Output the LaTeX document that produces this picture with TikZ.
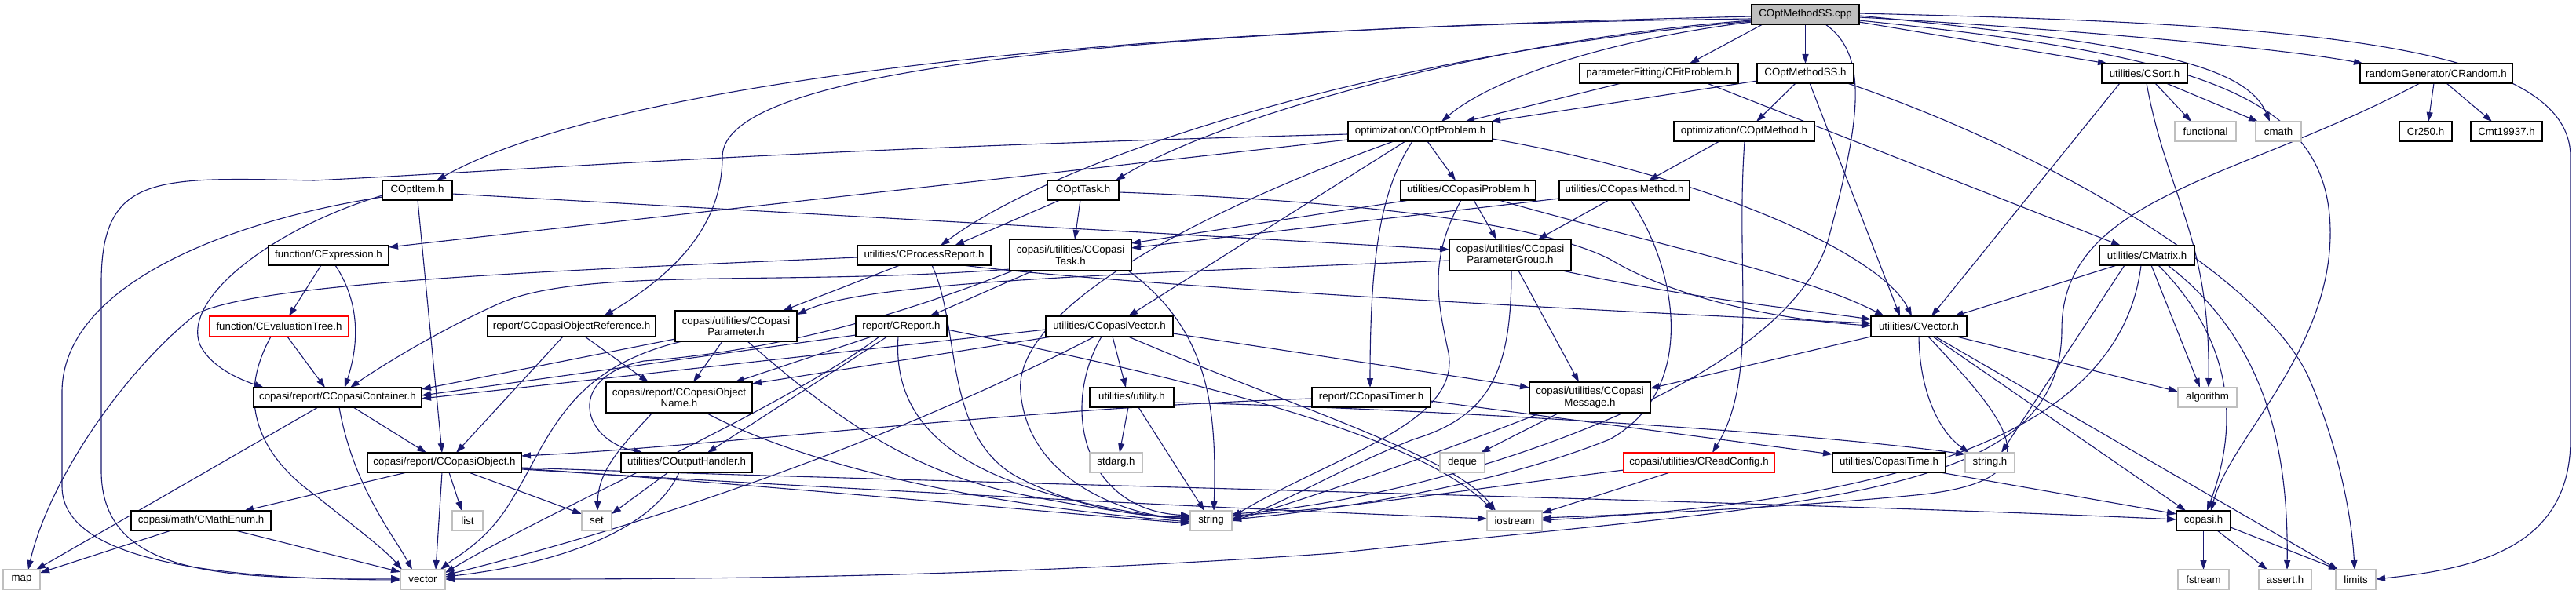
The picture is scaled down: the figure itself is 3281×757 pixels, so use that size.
\documentclass[tikz,border=0pt]{standalone}
\usepackage{fontspec}
\setmainfont{Liberation Sans}
\usetikzlibrary{arrows.meta,calc}
\definecolor{edgec}{HTML}{191970}
\definecolor{grayb}{HTML}{BFBFBF}
\definecolor{cppfill}{HTML}{BFBFBF}
\definecolor{redb}{HTML}{FF0000}
\pgfdeclarelayer{back}
\pgfdeclarelayer{edges}
\pgfsetlayers{back,edges,main}
\begin{document}
\begin{tikzpicture}[x=1pt,y=-1pt,
  nb/.style={draw=black,fill=white,line width=1.6pt,inner sep=0pt,outer sep=0pt,minimum height=25pt,align=center,font=\fontsize{13.3pt}{14.5pt}\selectfont},
  ng/.style={nb,draw=grayb},
  nr/.style={nb,draw=redb},
  e/.style={draw=edgec,line width=1.1pt,-{Triangle[length=12pt,width=8pt]}}]
\begin{pgfonlayer}{back}
\fill[white] (0,0) rectangle (3281,757);
\end{pgfonlayer}
\useasboundingbox (0,0) rectangle (3281,757);
% nodes
\node[nb,fill=cppfill,minimum width=137pt] (cpp) at (2299.5,18.5) {COptMethodSS.cpp};
\node[nb,minimum width=202pt] (fit) at (2113,93.5) {parameterFitting/CFitProblem.h};
\node[nb,minimum width=123pt] (mssh) at (2299.5,93.5) {COptMethodSS.h};
\node[nb,minimum width=109pt] (sort) at (2731.5,93.5) {utilities/CSort.h};
\node[nb,minimum width=194pt] (rand) at (3103,93.5) {randomGenerator/CRandom.h};
\node[nb,minimum width=184pt] (prob) at (1809,167.5) {optimization/COptProblem.h};
\node[nb,minimum width=179pt] (meth) at (2221.5,167.5) {optimization/COptMethod.h};
\node[ng,minimum width=78pt] (functional) at (2809,167.5) {functional};
\node[ng,minimum width=58pt] (cmath) at (2902,167.5) {cmath};
\node[nb,minimum width=67pt] (cr250) at (3089.5,167.5) {Cr250.h};
\node[nb,minimum width=91pt] (cmt) at (3192.5,167.5) {Cmt19937.h};
\node[nb,minimum width=89pt] (item) at (531.5,242.5) {COptItem.h};
\node[nb,minimum width=91pt] (task) at (1379.5,242.5) {COptTask.h};
\node[nb,minimum width=172pt] (cprob) at (1870,242.5) {utilities/CCopasiProblem.h};
\node[nb,minimum width=166pt] (cmeth) at (2069,242.5) {utilities/CCopasiMethod.h};
\node[nb,minimum width=153pt] (expr) at (418.5,325.5) {function/CExpression.h};
\node[nb,minimum width=170pt] (proc) at (1177,325.5) {utilities/CProcessReport.h};
\node[nb,minimum width=155pt,minimum height=40pt] (ctask) at (1363.5,325) {copasi/utilities/CCopasi\\Task.h};
\node[nb,minimum width=155pt,minimum height=40pt] (pgroup) at (1923.5,325) {copasi/utilities/CCopasi\\ParameterGroup.h};
\node[nb,minimum width=121pt] (matrix) at (2734.5,325.5) {utilities/CMatrix.h};
\node[nr,minimum width=177pt,minimum height=26pt] (evtree) at (355.5,416) {function/CEvaluationTree.h};
\node[nb,minimum width=214pt,minimum height=26pt] (oref) at (728,416) {report/CCopasiObjectReference.h};
\node[nb,minimum width=155pt,minimum height=39pt] (param) at (937.5,415.5) {copasi/utilities/CCopasi\\Parameter.h};
\node[nb,minimum width=116pt,minimum height=26pt] (report) at (1148,416) {report/CReport.h};
\node[nb,minimum width=162pt,minimum height=26pt] (cvec) at (1413,416) {utilities/CCopasiVector.h};
\node[nb,minimum width=122pt,minimum height=26pt] (vec) at (2444,416) {utilities/CVector.h};
\node[nb,minimum width=214pt] (cont) at (430,506.5) {copasi/report/CCopasiContainer.h};
\node[nb,minimum width=186pt,minimum height=39pt] (oname) at (865,506.5) {copasi/report/CCopasiObject\\Name.h};
\node[nb,minimum width=107pt] (util) at (1441.5,506.5) {utilities/utility.h};
\node[nb,minimum width=151pt] (timer) at (1746.5,506.5) {report/CCopasiTimer.h};
\node[nb,minimum width=154pt,minimum height=39pt] (msg) at (2025,506.5) {copasi/utilities/CCopasi\\Message.h};
\node[ng,minimum width=75pt] (algo) at (2811.5,506.5) {algorithm};
\node[nb,minimum width=196pt] (obj) at (566,589.5) {copasi/report/CCopasiObject.h};
\node[nb,minimum width=167pt] (outh) at (874.5,589.5) {utilities/COutputHandler.h};
\node[ng,minimum width=67pt] (stdarg) at (1421.5,589.5) {stdarg.h};
\node[ng,minimum width=57pt] (deque) at (1862.5,589.5) {deque};
\node[nr,minimum width=192pt] (rconf) at (2164,589.5) {copasi/utilities/CReadConfig.h};
\node[nb,minimum width=144pt] (ctime) at (2406,589.5) {utilities/CopasiTime.h};
\node[ng,minimum width=63pt] (strh) at (2534.5,589.5) {string.h};
\node[nb,minimum width=178pt] (menum) at (256,663.5) {copasi/math/CMathEnum.h};
\node[ng,minimum width=39pt] (list) at (595.5,663.5) {list};
\node[ng,minimum width=38pt] (set) at (760,663.5) {set};
\node[ng,minimum width=53pt] (string) at (1542.5,663.5) {string};
\node[ng,minimum width=70pt] (iostream) at (1929,663.5) {iostream};
\node[nb,minimum width=69pt] (copasih) at (2806.5,663.5) {copasi.h};
\node[ng,minimum width=47pt] (map) at (27.5,738.5) {map};
\node[ng,minimum width=57pt] (vector) at (538.5,738.5) {vector};
\node[ng,minimum width=65pt] (fstream) at (2806.5,738.5) {fstream};
\node[ng,minimum width=67pt] (assert) at (2910.5,738.5) {assert.h};
\node[ng,minimum width=51pt] (limits) at (3000.5,738.5) {limits};
% edges
\begin{pgfonlayer}{edges}
% from COptMethodSS.cpp
\draw[e] ($(cpp.north west)+(0,18)$) .. controls (1300,35) and (750,120) .. ($(item.north west)+(69,0)$);
\draw[e] ($(cpp.south west)+(14,0)$) -- ($(fit.north west)+(140,0)$);
\draw[e] (cpp.south) -- (mssh.north);
\draw[e] ($(cpp.north east)+(0,22)$) -- ($(sort.north west)+(7,0)$);
\draw[e] ($(cpp.north east)+(0,16)$) .. controls (2600,35) and (2900,60) .. ($(rand.north west)+(4,0)$);
\draw[e] ($(cpp.north west)+(0,22)$) .. controls (2050,50) and (1900,100) .. ($(prob.north west)+(119,0)$);
\draw[e] ($(cpp.north west)+(0,20)$) .. controls (1900,50) and (1550,150) .. ($(task.north west)+(87,0)$);
\draw[e] ($(cpp.north west)+(0,21)$) .. controls (1750,70) and (1350,200) .. ($(proc.north west)+(106,0)$);
\draw[e] ($(cpp.north west)+(0,15)$) .. controls (1400,40) and (920,90) .. (920,200) .. controls (920,300) and (840,360) .. ($(oref.north west)+(148,0)$);
\draw[e] ($(cpp.north east)+(0,14)$) .. controls (2720,55) and (2860,80) .. ($(cmath.north west)+(18,0)$);
\draw[e] ($(cpp.north east)+(0,20)$) .. controls (2800,70) and (2970,120) .. (2968,300) .. controls (2966,450) and (2840,560) .. ($(copasih.north west)+(44,0)$);
\draw[e] ($(cpp.north east)+(0,11)$) .. controls (2900,30) and (3274,50) .. (3274,200) -- (3274,560) .. controls (3274,700) and (3150,725) .. ($(limits.north east)+(0,12)$);
\draw[e] ($(cpp.south west)+(94,0)$) .. controls (2380,70) and (2370,150) .. (2330,300) .. controls (2280,500) and (1800,640) .. ($(string.north east)+(0,4)$);
% fit, mssh, sort, rand
\draw[e] ($(fit.south west)+(53,0)$) -- ($(prob.north west)+(149,0)$);
\draw[e] ($(fit.south west)+(162,0)$) -- ($(matrix.north west)+(27,0)$);
\draw[e] ($(mssh.south west)+(49,0)$) -- ($(meth.north west)+(105,0)$);
\draw[e] ($(mssh.north west)+(0,22)$) -- ($(prob.north west)+(182,0)$);
\draw[e] ($(mssh.south west)+(67,0)$) -- ($(vec.north west)+(37,0)$);
\draw[e] ($(mssh.south west)+(115,0)$) .. controls (2600,190) and (2880,350) .. (2940,480) .. controls (2975,560) and (2995,650) .. ($(limits.north west)+(24,0)$);
\draw[e] ($(sort.south west)+(68,0)$) -- ($(functional.north west)+(21,0)$);
\draw[e] ($(sort.south west)+(82,0)$) -- ($(cmath.north west)+(3,0)$);
\draw[e] ($(sort.south west)+(57,0)$) .. controls (2760,250) and (2815,300) .. ($(algo.north west)+(39,0)$);
\draw[e] ($(sort.south west)+(23,0)$) -- ($(vec.north west)+(77,0)$);
\draw[e] ($(rand.south west)+(94,0)$) -- ($(cr250.north west)+(37,0)$);
\draw[e] ($(rand.south west)+(110,0)$) -- ($(cmt.north west)+(27,0)$);
\draw[e] ($(rand.south west)+(76,0)$) .. controls (2850,230) and (2626,250) .. (2626,420) .. controls (2626,640) and (2300,640) .. (1700,705) .. controls (1200,740) and (800,738) .. ($(vector.north east)+(0,12)$);
% COptProblem
\draw[e] ($(prob.north west)+(0,16)$) .. controls (1000,190) and (700,215) .. (400,230) .. controls (200,226) and (129,220) .. (129,360) -- (129,600) .. controls (129,740) and (300,737) .. ($(vector.north west)+(0,11)$);
\draw[e] ($(prob.north west)+(0,23)$) -- ($(expr.north east)+(0,2)$);
\draw[e] ($(prob.south west)+(82,0)$) .. controls (1760,240) and (1745,320) .. ($(timer.north west)+(74,0)$);
\draw[e] ($(prob.south west)+(101,0)$) -- ($(cprob.north west)+(70,0)$);
\draw[e] ($(prob.south west)+(73,0)$) -- ($(cvec.north west)+(105,0)$);
\draw[e] ($(prob.north east)+(0,22)$) .. controls (2200,230) and (2400,330) .. ($(vec.north west)+(52,0)$);
\draw[e] ($(prob.south west)+(58,0)$) .. controls (1500,280) and (1290,400) .. (1300,500) .. controls (1310,620) and (1450,660) .. ($(string.north west)+(0,9)$);
% COptMethod
\draw[e] ($(meth.south west)+(58,0)$) -- ($(cmeth.north west)+(114,0)$);
\draw[e] ($(meth.south west)+(90,0)$) .. controls (2210,350) and (2240,480) .. ($(rconf.north west)+(113,0)$);
% COptItem
\draw[e] ($(item.north east)+(0,17)$) -- ($(pgroup.north west)+(0,13)$);
\draw[e] ($(item.south west)+(45,0)$) -- ($(obj.north west)+(95,0)$);
\draw[e] ($(item.north west)+(0,19)$) .. controls (350,290) and (230,380) .. (255,440) .. controls (270,470) and (310,485) .. ($(cont.north west)+(13,0)$);
\draw[e] ($(item.north west)+(0,21)$) .. controls (300,280) and (79,360) .. (79,500) -- (79,620) .. controls (79,720) and (300,738) .. ($(vector.north west)+(0,13)$);
% CExpression
\draw[e] ($(expr.south west)+(67,0)$) -- ($(evtree.north west)+(101,0)$);
\draw[e] ($(expr.south west)+(85,0)$) .. controls (455,380) and (460,430) .. ($(cont.north west)+(116,0)$);
% CProcessReport
\draw[e] ($(proc.north west)+(0,15)$) .. controls (700,345) and (330,360) .. (250,400) .. controls (150,480) and (60,620) .. ($(map.north west)+(32,0)$);
\draw[e] ($(proc.south west)+(54,0)$) -- ($(param.north west)+(137,0)$);
\draw[e] ($(proc.south west)+(95,0)$) .. controls (1225,420) and (1200,560) .. (1300,610) .. controls (1380,650) and (1450,658) .. ($(string.north west)+(0,8)$);
\draw[e] ($(proc.south west)+(134,0)$) .. controls (1400,360) and (1900,390) .. ($(vec.north west)+(0,9)$);
% CCopasiTask
\draw[e] ($(ctask.south west)+(30,0)$) -- ($(report.north west)+(94,0)$);
\draw[e] ($(ctask.north west)+(0,38)$) .. controls (1000,365) and (750,340) .. (640,385) .. controls (560,420) and (480,470) .. ($(cont.north west)+(123,0)$);
\draw[e] ($(ctask.south west)+(151,0)$) .. controls (1540,420) and (1550,520) .. ($(string.north west)+(30,0)$);
\draw[e] ($(ctask.south west)+(4,0)$) .. controls (1100,420) and (950,450) .. (820,460) .. controls (720,480) and (740,560) .. ($(outh.north west)+(28,0)$);
% CCopasiParameterGroup
\draw[e] ($(pgroup.north west)+(0,27)$) .. controls (1400,350) and (1100,360) .. ($(param.north east)+(0,5)$);
\draw[e] ($(pgroup.south west)+(88,0)$) -- ($(msg.north west)+(63,0)$);
\draw[e] ($(pgroup.south west)+(79,0)$) .. controls (1925,470) and (1900,530) .. (1800,560) .. controls (1700,600) and (1620,650) .. ($(string.north east)+(0,10)$);
\draw[e] ($(pgroup.south west)+(144,0)$) .. controls (2150,380) and (2300,395) .. ($(vec.north west)+(0,4)$);
% CCopasiParameter
\draw[e] ($(param.south west)+(60,0)$) -- ($(oname.north west)+(111,0)$);
\draw[e] ($(param.south west)+(9,0)$) .. controls (720,470) and (700,560) .. (650,640) .. controls (620,690) and (580,710) .. ($(vector.north west)+(51,0)$);
\draw[e] ($(param.north west)+(0,36)$) -- ($(cont.north east)+(0,2)$);
\draw[e] ($(param.south west)+(92,0)$) .. controls (1050,520) and (1150,600) .. (1300,630) .. controls (1400,650) and (1480,660) .. ($(string.north west)+(0,10)$);
% CCopasiObjectReference
\draw[e] ($(oref.south west)+(96,0)$) -- ($(obj.north west)+(113,0)$);
\draw[e] ($(oref.south west)+(124,0)$) -- ($(oname.north west)+(54,0)$);
% CReport
\draw[e] ($(report.north west)+(0,24)$) -- ($(cont.north east)+(0,10)$);
\draw[e] ($(report.south west)+(20,0)$) -- ($(oname.north west)+(164,0)$);
\draw[e] ($(report.south west)+(40,0)$) -- ($(outh.north west)+(110,0)$);
\draw[e] ($(report.south west)+(54,0)$) .. controls (1135,560) and (1250,630) .. ($(string.north west)+(0,12)$);
\draw[e] ($(report.north east)+(0,17)$) .. controls (1500,480) and (1800,550) .. ($(iostream.north west)+(8,0)$);
\draw[e] ($(report.south west)+(30,0)$) .. controls (1000,520) and (700,650) .. ($(vector.north east)+(0,4)$);
% CCopasiVector
\draw[e] ($(cvec.south west)+(85,0)$) -- ($(util.north west)+(46,0)$);
\draw[e] ($(cvec.north west)+(0,17)$) -- ($(cont.north east)+(0,14)$);
\draw[e] ($(cvec.south west)+(8,0)$) -- ($(oname.north east)+(0,2)$);
\draw[e] ($(cvec.south west)+(62,0)$) .. controls (1200,530) and (900,650) .. ($(vector.north east)+(0,7)$);
\draw[e] ($(cvec.south west)+(71,0)$) .. controls (1350,520) and (1380,650) .. ($(string.north west)+(0,6)$);
\draw[e] ($(cvec.north east)+(0,22)$) -- ($(msg.north west)+(0,7)$);
\draw[e] ($(cvec.south west)+(105,0)$) .. controls (1650,520) and (1850,580) .. ($(iostream.north west)+(11,0)$);
% utility, timer, message
\draw[e] ($(util.south west)+(49,0)$) -- ($(stdarg.north west)+(38,0)$);
\draw[e] ($(util.south west)+(62,0)$) -- ($(string.north west)+(18,0)$);
\draw[e] ($(util.north east)+(0,19)$) .. controls (1800,520) and (2300,550) .. ($(strh.north west)+(0,2)$);
\draw[e] ($(timer.north west)+(0,14)$) .. controls (1300,520) and (900,570) .. ($(obj.north east)+(0,4)$);
\draw[e] ($(timer.north east)+(0,17)$) -- ($(ctime.north west)+(0,2)$);
\draw[e] ($(msg.south west)+(38,0)$) -- ($(deque.north west)+(52,0)$);
\draw[e] ($(msg.south west)+(15,0)$) .. controls (1800,590) and (1650,640) .. ($(string.north east)+(0,13)$);
% CCopasiObjectName
\draw[e] ($(oname.south west)+(59,0)$) .. controls (790,570) and (762,600) .. ($(set.north west)+(20,0)$);
\draw[e] ($(oname.south west)+(127,0)$) .. controls (1000,580) and (1200,640) .. ($(string.north west)+(0,14)$);
% CCopasiObject
\draw[e] ($(obj.south west)+(50,0)$) -- ($(menum.north west)+(144,0)$);
\draw[e] ($(obj.south west)+(104,0)$) -- ($(list.north west)+(12,0)$);
\draw[e] ($(obj.south west)+(129,0)$) -- ($(set.north west)+(0,4)$);
\draw[e] ($(obj.south west)+(95,0)$) -- ($(vector.north west)+(45,0)$);
\draw[e] ($(obj.north east)+(0,20)$) .. controls (1000,620) and (1300,650) .. ($(string.north west)+(0,16)$);
\draw[e] ($(obj.north east)+(0,21)$) .. controls (1100,625) and (1600,650) .. ($(iostream.north west)+(0,10)$);
\draw[e] ($(obj.north east)+(0,19)$) .. controls (1200,615) and (2300,640) .. ($(copasih.north west)+(0,11)$);
% COutputHandler
\draw[e] ($(outh.south west)+(60,0)$) -- ($(set.north east)+(0,4)$);
\draw[e] ($(outh.south west)+(74,0)$) .. controls (830,680) and (700,720) .. ($(vector.north east)+(0,9)$);
% CEvaluationTree
\draw[e] ($(evtree.south west)+(99,0)$) -- ($(cont.north west)+(91,0)$);
\draw[e] ($(evtree.south west)+(78,0)$) .. controls (300,510) and (330,580) .. (400,630) .. controls (450,670) and (490,700) .. ($(vector.north west)+(2,0)$);
% CCopasiContainer
\draw[e] ($(cont.south west)+(82,0)$) -- ($(map.north west)+(42,0)$);
\draw[e] ($(cont.south west)+(109,0)$) .. controls (450,620) and (500,680) .. ($(vector.north west)+(15,0)$);
\draw[e] ($(cont.south west)+(127,0)$) -- ($(obj.north west)+(75,0)$);
% CMathEnum
\draw[e] ($(menum.south west)+(51,0)$) -- ($(map.north east)+(0,4)$);
\draw[e] ($(menum.south west)+(133,0)$) -- ($(vector.north west)+(0,3)$);
% CMatrix
\draw[e] ($(matrix.south west)+(22,0)$) -- ($(vec.north west)+(106,0)$);
\draw[e] ($(matrix.south west)+(32,0)$) -- ($(strh.north west)+(46,0)$);
\draw[e] ($(matrix.south west)+(66,0)$) -- ($(algo.north west)+(28,0)$);
\draw[e] ($(matrix.south west)+(75,0)$) .. controls (2830,420) and (2860,520) .. ($(copasih.north west)+(39,0)$);
\draw[e] ($(matrix.south west)+(87,0)$) .. controls (2880,430) and (2915,560) .. ($(assert.north west)+(36,0)$);
\draw[e] ($(matrix.south west)+(53,0)$) .. controls (2700,560) and (2400,640) .. ($(iostream.north east)+(0,12)$);
% copasi.h
\draw[e] (copasih.south) -- (fstream.north);
\draw[e] ($(copasih.south west)+(52,0)$) -- ($(assert.north west)+(11,0)$);
\draw[e] ($(copasih.north east)+(0,21)$) -- ($(limits.north west)+(3,0)$);
% CVector
\draw[e] (vec.south west) -- ($(msg.north east)+(0,8)$);
\draw[e] ($(vec.south west)+(61,0)$) .. controls (2445,500) and (2470,550) .. ($(strh.north west)+(5,0)$);
\draw[e] ($(vec.south west)+(73,0)$) .. controls (2560,540) and (2620,610) .. (2450,630) .. controls (2300,645) and (2100,655) .. ($(iostream.north east)+(0,9)$);
\draw[e] ($(vec.south west)+(79,0)$) -- ($(copasih.north west)+(12,0)$);
\draw[e] ($(vec.south west)+(82,0)$) -- ($(limits.north west)+(3,0)$);
\draw[e] ($(vec.south west)+(109,0)$) -- ($(algo.north west)+(0,5)$);
% CopasiTime, CReadConfig
\draw[e] ($(ctime.south west)+(137,0)$) -- ($(copasih.north west)+(0,4)$);
\draw[e] ($(rconf.south west)+(59,0)$) -- ($(iostream.north east)+(0,3)$);
\draw[e] ($(rconf.north west)+(0,22)$) .. controls (1900,620) and (1700,650) .. ($(string.north east)+(0,6)$);
% CCopasiProblem
\draw[e] ($(cprob.south west)+(11,0)$) -- ($(ctask.north east)+(0,5)$);
\draw[e] ($(cprob.south west)+(93,0)$) -- ($(pgroup.north west)+(60,0)$);
\draw[e] ($(cprob.south west)+(77,0)$) .. controls (1820,330) and (1830,380) .. (1845,450) .. controls (1860,540) and (1700,580) .. ($(string.north east)+(0,8)$);
\draw[e] ($(cprob.south west)+(125,0)$) .. controls (2100,310) and (2300,350) .. ($(vec.north west)+(17,0)$);
% CCopasiMethod
\draw[e] ($(cmeth.north west)+(0,23)$) -- ($(ctask.north east)+(0,11)$);
\draw[e] ($(cmeth.south west)+(63,0)$) -- ($(pgroup.north west)+(113,0)$);
\draw[e] ($(cmeth.south west)+(91,0)$) .. controls (2140,350) and (2160,500) .. (2050,560) .. controls (1900,620) and (1700,650) .. ($(string.north east)+(0,11)$);
% COptTask
\draw[e] ($(task.south west)+(42,0)$) -- ($(ctask.north west)+(83,0)$);
\draw[e] ($(task.south west)+(16,0)$) -- ($(proc.north west)+(124,0)$);
\draw[e] ($(task.north east)+(0,15)$) .. controls (1700,255) and (1950,280) .. (2050,330) .. controls (2150,390) and (2300,410) .. ($(vec.north west)+(0,12)$);
\end{pgfonlayer}
\end{tikzpicture}
\end{document}
